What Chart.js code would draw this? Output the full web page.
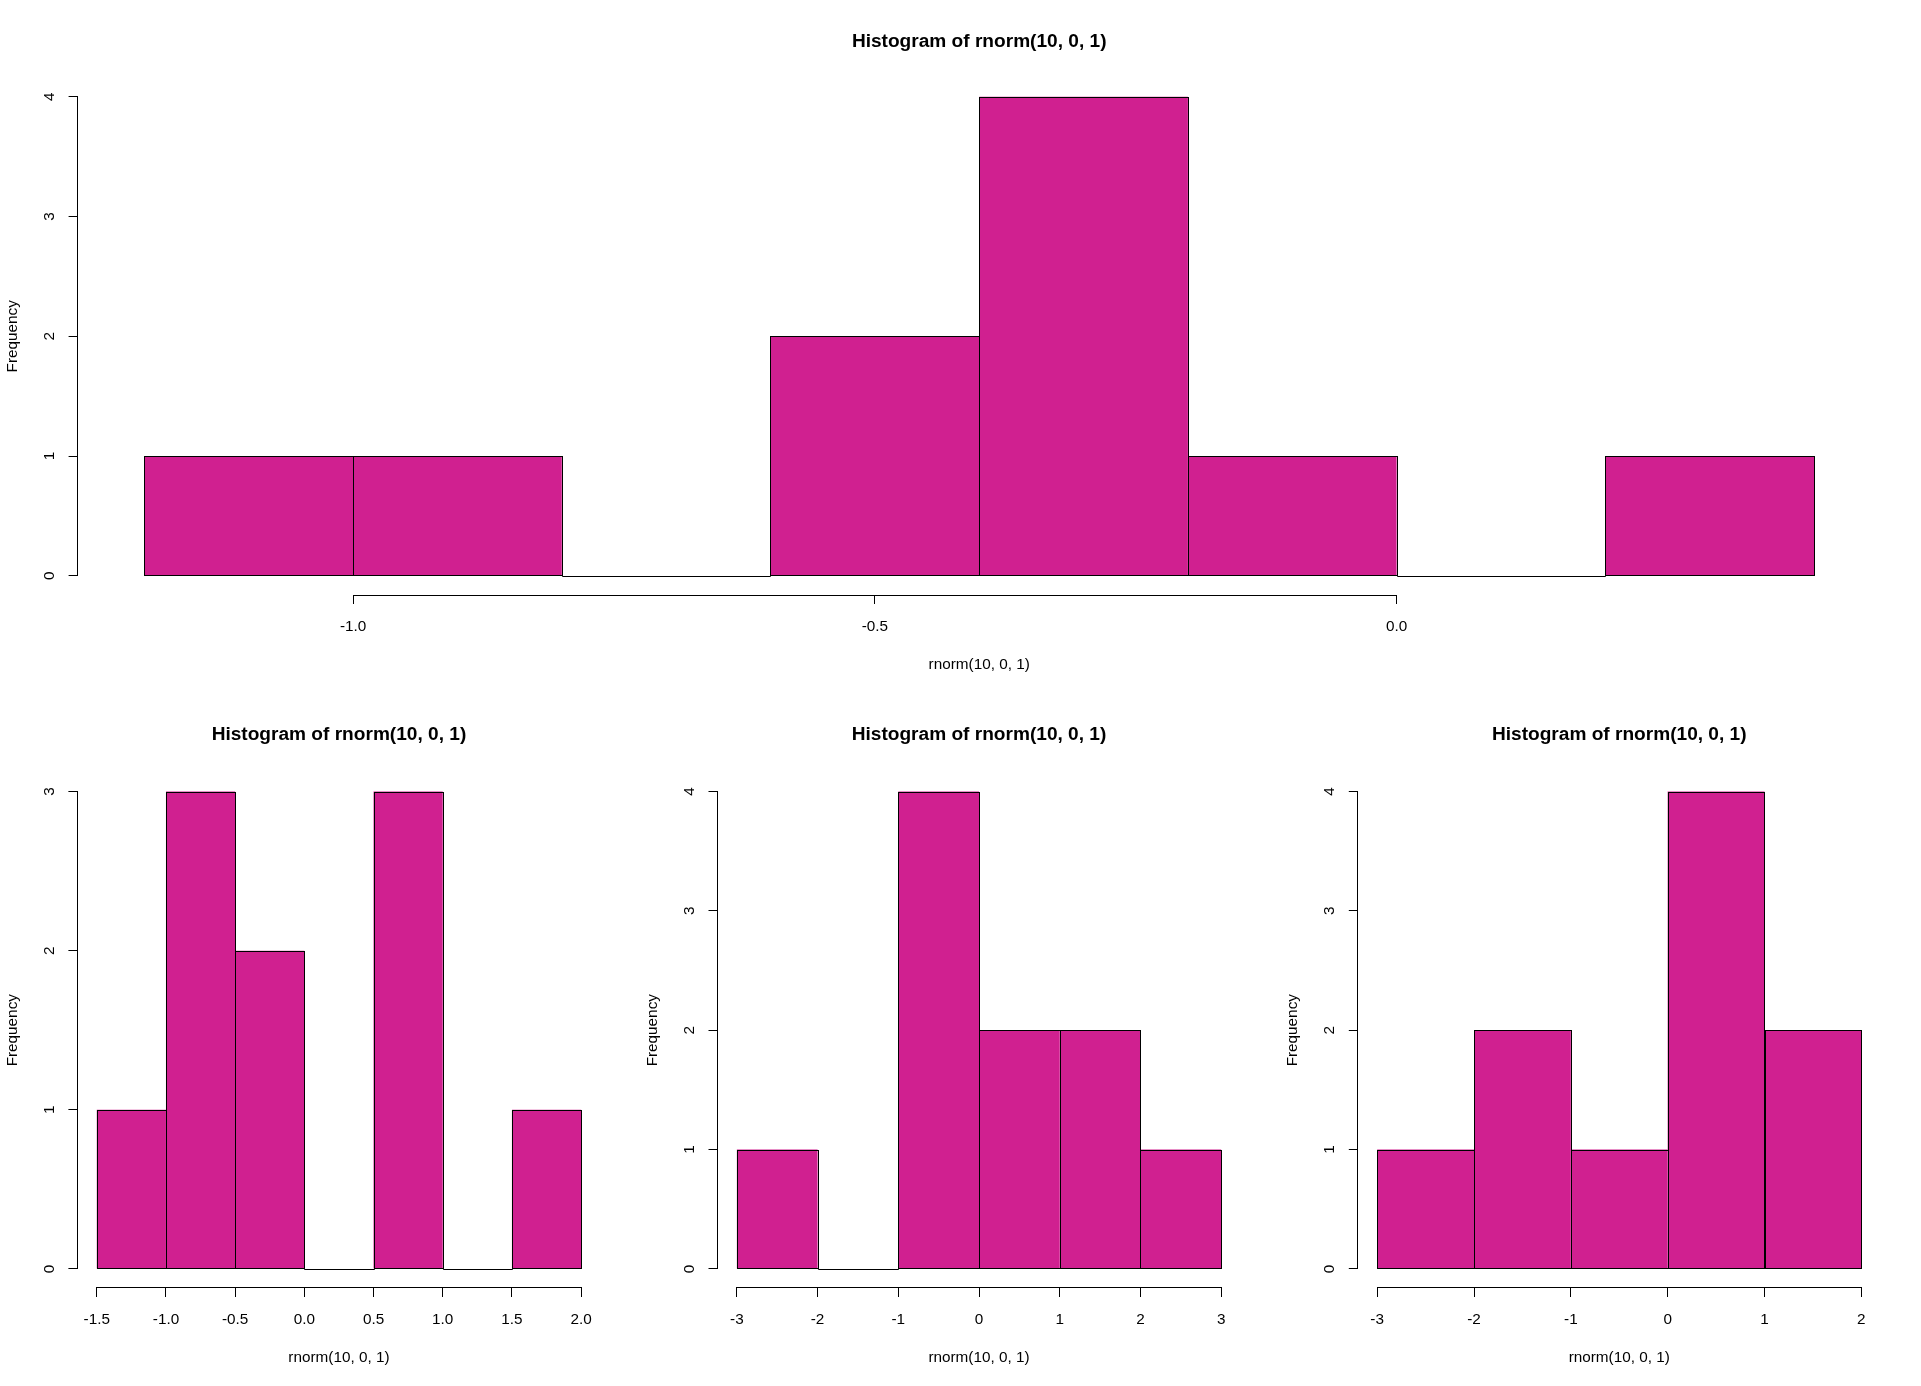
<!DOCTYPE html>
<html>
<head>
<meta charset="utf-8">
<script src="https://cdn.jsdelivr.net/npm/chart.js@4/dist/chart.umd.min.js"></script>
<style>
html,body{margin:0;padding:0;background:#fff;width:1921px;height:1386px;overflow:hidden;}
canvas{position:absolute;}
</style>
</head>
<body>
<canvas id="c0" width="1921" height="693" style="left:0px;top:0px"></canvas>
<canvas id="c1" width="640" height="693" style="left:0px;top:693px"></canvas>
<canvas id="c2" width="641" height="693" style="left:640px;top:693px"></canvas>
<canvas id="c3" width="640" height="693" style="left:1281px;top:693px"></canvas>
<script>
// ---- text ----
const titleText = 'Histogram of rnorm(10, 0, 1)';
const xAxisTitle = 'rnorm(10, 0, 1)';
const yAxisTitle = 'Frequency';

// ---- panel 1 (top, full width) ----
const breaks1 = [-1.2, -1.0, -0.8, -0.6, -0.4, -0.2, 0.0, 0.2, 0.4];
const counts1 = [1, 1, 0, 2, 4, 1, 0, 1];
const xTicks1 = [-1.0, -0.5, 0.0];
const xTickLabels1 = ['-1.0', '-0.5', '0.0'];
const yTicks1 = [0, 1, 2, 3, 4];
const yTickLabels1 = ['0', '1', '2', '3', '4'];

// ---- panel 2 (bottom left) ----
const breaks2 = [-1.5, -1.0, -0.5, 0.0, 0.5, 1.0, 1.5, 2.0];
const counts2 = [1, 3, 2, 0, 3, 0, 1];
const xTicks2 = [-1.5, -1.0, -0.5, 0.0, 0.5, 1.0, 1.5, 2.0];
const xTickLabels2 = ['-1.5', '-1.0', '-0.5', '0.0', '0.5', '1.0', '1.5', '2.0'];
const yTicks2 = [0, 1, 2, 3];
const yTickLabels2 = ['0', '1', '2', '3'];

// ---- panel 3 (bottom middle) ----
const breaks3 = [-3, -2, -1, 0, 1, 2, 3];
const counts3 = [1, 0, 4, 2, 2, 1];
const xTicks3 = [-3, -2, -1, 0, 1, 2, 3];
const xTickLabels3 = ['-3', '-2', '-1', '0', '1', '2', '3'];
const yTicks3 = [0, 1, 2, 3, 4];
const yTickLabels3 = ['0', '1', '2', '3', '4'];

// ---- panel 4 (bottom right) ----
const breaks4 = [-3, -2, -1, 0, 1, 2];
const counts4 = [1, 2, 1, 4, 2];
const xTicks4 = [-3, -2, -1, 0, 1, 2];
const xTickLabels4 = ['-3', '-2', '-1', '0', '1', '2'];
const yTicks4 = [0, 1, 2, 3, 4];
const yTickLabels4 = ['0', '1', '2', '3', '4'];

const FONT = "'Liberation Sans', Arial, Helvetica, sans-serif";
const BAR_COLOR = '#D02090';
const LABEL_SIZE = 15.3;
const TITLE_SIZE = 19.1;

const align = p => Math.round(p - 0.5) + 0.5;

// R-style outlines of histogram cells and axis lines spanning first..last tick
const rStyle = {
  id: 'rStyle',
  afterDatasetsDraw(chart) {
    const ctx = chart.ctx;
    const meta = chart.getDatasetMeta(0);
    ctx.save();
    ctx.strokeStyle = '#000';
    ctx.lineWidth = 1;
    meta.data.forEach(el => {
      const p = el.getProps(['x', 'y', 'base', 'width'], true);
      const l = Math.round(p.x - p.width / 2), r = Math.round(p.x + p.width / 2);
      const t = Math.round(Math.min(p.y, p.base)), b = Math.round(Math.max(p.y, p.base));
      ctx.strokeRect(l + 0.5, t + 0.5, r - l, b - t);
    });
    const xs = chart.scales.x, ys = chart.scales.y;
    const xt = xs.ticks, yt = ys.ticks;
    ctx.lineCap = 'square';
    ctx.beginPath();
    const ay = align(chart.chartArea.bottom);
    ctx.moveTo(align(xs.getPixelForValue(xt[0].value)), ay);
    ctx.lineTo(align(xs.getPixelForValue(xt[xt.length - 1].value)), ay);
    const ax = align(chart.chartArea.left);
    ctx.moveTo(ax, align(ys.getPixelForValue(yt[0].value)));
    ctx.lineTo(ax, align(ys.getPixelForValue(yt[yt.length - 1].value)));
    ctx.stroke();
    ctx.restore();
  }
};

function makeHist(id, breaks, counts, xTicks, xTickLabels, yTicks, yTickLabels, box) {
  const xmin = breaks[0], xmax = breaks[breaks.length - 1];
  const xext = 0.04 * (xmax - xmin);
  const ymax = Math.max(...counts);
  const yext = 0.04 * ymax;
  const points = counts.map((c, i) => ({ x: (breaks[i] + breaks[i + 1]) / 2, y: c }));
  const gridOpts = { offset: false, drawOnChartArea: false, drawTicks: true, tickLength: 9, color: '#000', lineWidth: 1 };
  return new Chart(document.getElementById(id), {
    type: 'bar',
    data: {
      datasets: [{
        data: points,
        backgroundColor: BAR_COLOR,
        borderWidth: 0,
        inflateAmount: 0,
        barPercentage: 1,
        categoryPercentage: 1
      }]
    },
    options: {
      responsive: false,
      animation: false,
      devicePixelRatio: 1,
      events: [],
      layout: { padding: { left: 0, right: box.padRight, top: 0, bottom: 0 } },
      plugins: {
        legend: { display: false },
        tooltip: { enabled: false },
        title: {
          display: true, text: titleText, fullSize: false, color: '#000',
          font: { family: FONT, size: TITLE_SIZE, weight: 'bold', lineHeight: 1.2 },
          padding: { top: box.titleTop, bottom: box.titleBottom }
        }
      },
      scales: {
        x: {
          type: 'linear', bounds: 'data', offset: false,
          min: xmin - xext, max: xmax + xext,
          afterBuildTicks: s => { s.ticks = xTicks.map(v => ({ value: v })); },
          afterFit: s => { s.height = box.xHeight; },
          grid: gridOpts,
          border: { display: false },
          ticks: {
            autoSkip: false, maxRotation: 0, minRotation: 0, padding: 13.8, color: '#000',
            font: { family: FONT, size: LABEL_SIZE, lineHeight: 1.2 },
            callback: (v, i) => xTickLabels[i]
          },
          title: {
            display: true, text: xAxisTitle, color: '#000',
            font: { family: FONT, size: LABEL_SIZE, lineHeight: 1.2 },
            padding: { top: 0, bottom: 19.3 }
          }
        },
        y: {
          type: 'linear', bounds: 'data',
          min: -yext, max: ymax + yext,
          afterBuildTicks: s => { s.ticks = yTicks.map(v => ({ value: v })); },
          afterFit: s => { s.width = box.yWidth; },
          grid: gridOpts,
          border: { display: false },
          ticks: {
            autoSkip: false, minRotation: 90, maxRotation: 90, crossAlign: 'center', padding: 14.75, color: '#000',
            font: { family: FONT, size: LABEL_SIZE, lineHeight: 1.2 },
            callback: (v, i) => yTickLabels[i]
          },
          title: {
            display: true, text: yAxisTitle, color: '#000',
            font: { family: FONT, size: LABEL_SIZE, lineHeight: 1.2 },
            padding: { top: 3.2 - (77.5 - box.yWidth), bottom: 0 }
          }
        }
      }
    },
    plugins: [rStyle]
  });
}

const topBox = { yWidth: 77.6, padRight: 40.2, xHeight: 98, titleTop: 30, titleBottom: 24.7 };
makeHist('c0', breaks1, counts1, xTicks1, xTickLabels1, yTicks1, yTickLabels1, topBox);
makeHist('c1', breaks2, counts2, xTicks2, xTickLabels2, yTicks2, yTickLabels2,
  { yWidth: 77.4, padRight: 39.5, xHeight: 98, titleTop: 30.5, titleBottom: 26 });
makeHist('c2', breaks3, counts3, xTicks3, xTickLabels3, yTicks3, yTickLabels3,
  { yWidth: 77.5, padRight: 40.5, xHeight: 98, titleTop: 30.5, titleBottom: 26 });
makeHist('c3', breaks4, counts4, xTicks4, xTickLabels4, yTicks4, yTickLabels4,
  { yWidth: 76.8, padRight: 40.3, xHeight: 98, titleTop: 30.5, titleBottom: 26 });
</script>
</body>
</html>
